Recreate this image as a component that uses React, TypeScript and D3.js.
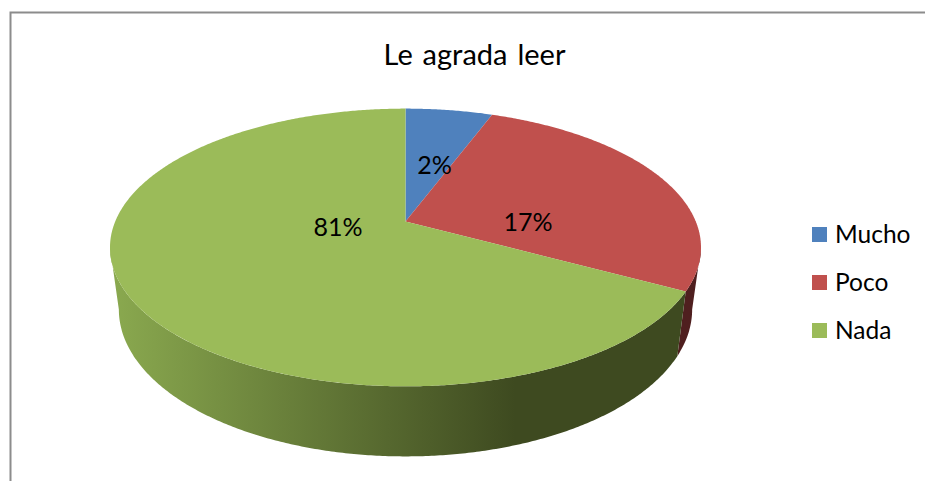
import React from "react";
import * as d3 from "d3";

const titleText = "Le agrada leer";
const categories = ["Mucho", "Poco", "Nada"];
const sliceShares = [5.7, 27.2, 67.1];
const sliceLabels = ["2%", "17%", "81%"];
const topColors = ["#4f81bd", "#c0504d", "#9bbb59"];

const W = 925, H = 481;
const apexX = 405.5, apexY = 221.5, R = 290.3, A = 134, K = 0.187;
const wallScaleX = 0.97, wallScaleY = 1.058, rimCy = 247, wallCy = 309;
const labelPos = [[434.5, 165], [528, 222], [338, 227]];
const font = "Lato, 'Open Sans', sans-serif";

type P = [number, number];
const top = (a: number): P => {
  const u = Math.sin(a), v = Math.cos(a), w = 1 + K * v;
  return [apexX + (R * u) / w, apexY - (A * v) / w];
};
const low = (a: number): P => {
  const [x, y] = top(a);
  return [apexX + (x - apexX) * wallScaleX, wallCy + (y - rimCy) * wallScaleY];
};
const samples = (a0: number, a1: number) => {
  const n = Math.max(2, Math.ceil((a1 - a0) * 120));
  return d3.range(n + 1).map((i) => a0 + ((a1 - a0) * i) / n);
};

export default function App() {
  const arcs = d3.pie<number>().sort(null)(sliceShares);
  const line = d3.line<P>();
  const visStart = Math.acos(-K), visEnd = 2 * Math.PI - visStart;
  const legendY = d3.scalePoint<string>().domain(categories).range([234.5, 330.5]);
  return (
    <svg width={W} height={H} viewBox={`0 0 ${W} ${H}`}
      style={{ position: "absolute", left: 0, top: 0, background: "#fff" }}>
      <defs>
        <linearGradient id="wallG" gradientUnits="userSpaceOnUse" x1={112} x2={515} y1={0} y2={0}>
          <stop offset="0" stopColor="#8aa94f" />
          <stop offset="1" stopColor="#3e4a20" />
        </linearGradient>
      </defs>
      <path d={`M10.5,481V12.5H925`} fill="none" stroke="#8c8c8c" strokeWidth={2} />
      {arcs.map((d, i) => {
        const a0 = Math.max(d.startAngle, visStart), a1 = Math.min(d.endAngle, visEnd);
        if (a1 <= a0) return null;
        const as = samples(a0, a1);
        const pts = [...as.map(top), ...as.slice().reverse().map(low)];
        return <path key={i} d={line(pts) + "Z"} fill={i === 2 ? "url(#wallG)" : "#4f1f1f"} />;
      })}
      {arcs.map((d, i) => {
        const pts: P[] = [[apexX, apexY], ...samples(d.startAngle, d.endAngle).map(top)];
        return <path key={i} d={line(pts) + "Z"} fill={topColors[i]} />;
      })}
      <text x={474.5} y={65} textAnchor="middle" fontFamily={font} fontSize={29} wordSpacing={2.5} fill="#000">{titleText}</text>
      {sliceLabels.map((s, i) => (
        <text key={s} x={labelPos[i][0]} y={labelPos[i][1]} dy="0.35em" textAnchor="middle"
          fontFamily={font} fontSize={25} fill="#000">{s}</text>
      ))}
      {categories.map((c, i) => (
        <g key={c}>
          <rect x={812} y={legendY(c)! - 7.5} width={15} height={15} fill={topColors[i]} />
          <text x={835} y={legendY(c)!} dy="0.35em" fontFamily={font} fontSize={24.5} fill="#000">{c}</text>
        </g>
      ))}
    </svg>
  );
}
